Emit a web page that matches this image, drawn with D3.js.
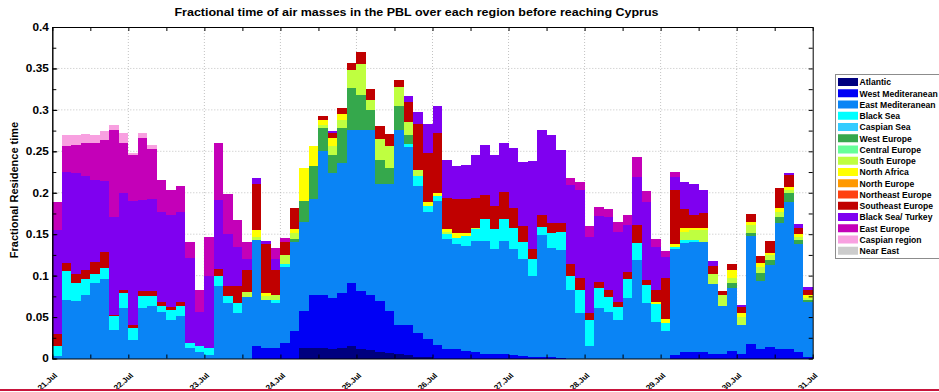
<!DOCTYPE html>
<html><head><meta charset="utf-8">
<script src="https://cdn.jsdelivr.net/npm/d3@7"></script>
<style>
body{margin:0;background:#fff}
svg{display:block}
text{font-family:"Liberation Sans",Arial,sans-serif;font-weight:bold;fill:#000}
</style>
</head><body><svg id="c" width="939" height="392"></svg>
<script>
// ---------------- data (one value per 3-hour bar, 21 Jul 00:00 .. 30 Jul 21:00) ----------------
const regions = ["Atlantic","West Mediteranean","East Mediteranean","Black Sea","Caspian Sea","West Europe",
  "Central Europe","South Europe","North Africa","North Europe","Northeast Europe","Southeast Europe",
  "Black Sea/ Turkey","East Europe","Caspian region","Near East"];
const regionColors = ["#00007f","#0000f5","#0a84f5","#00ffff","#33ccff","#35a84c","#66ff99","#bfff40",
  "#ffff00","#ff9900","#ff4010","#c00000","#7f00f0","#c400b8","#f8a0e0","#cccccc"];
const dayLabels = ["21.Jul","22.Jul","23.Jul","24.Jul","25.Jul","26.Jul","27.Jul","28.Jul","29.Jul","30.Jul","31.Jul"];
const yTickValues = [0,0.05,0.1,0.15,0.2,0.25,0.3,0.35,0.4];

const atlantic = [
 0,0,0,0,0,0,0,0,  0,0,0,0,0,0,0,0,  0,0,0,0,0,0,0,0,
 0,0,.013,.013,.013,.011,.013,.015,  .011,.010,.008,.007,.005,.004,.002,.002,
 0,0,0,0,0,0,0,0,  0,0,0,0,0,0,0,0,  0,0,0,0,0,0,0,0,  0,0,0,0,0,0,0,0,  0,0,0,0,0,0,0,0];
const westMed = [
 0,0,0,0,0,0,0,0,  0,0,0,0,0,0,0,0,  0,0,0,0,0,.015,.013,.013,
 .019,.033,.044,.064,.064,.062,.066,.076,  .070,.067,.061,.050,.036,.037,.029,.021,
 .016,.012,.012,.009,.008,.006,.005,.005,  .004,.003,.002,.002,.002,.001,0,0,
 0,0,0,0,0,0,0,0,  0,.004,.008,.008,.008,.005,.005,.009,  .005,.017,.011,.0135,.012,.012,.008,.002];
const eastMed = [
 .003,.071,.069,.077,.091,.096,.034,.061,  .0225,.061,.063,.0567,.0466,.0507,.0125,.008,
 .004,.087,.067,.055,.074,.1275,.058,.054,  .092,.107,.108,.116,.173,.151,.157,.185,
 .195,.199,.141,.153,.235,.214,.177,.154,  .174,.132,.126,.127,.134,.136,.127,.137,
 .128,.117,.098,.147,.131,.130,.083,.055,  .015,.0605,.0565,.0464,.0726,.1187,.0665,.0444,
 .0335,.1277,.131,.132,.133,.0845,.0583,.0757,  .0354,.1307,.0828,.0992,.151,.1772,.130,.0664];
const blackSea = [
 .012,.034,.022,.019,.011,.013,.017,.018,  .014,.015,.013,.007,.012,.013,.006,.0065,
 .009,.013,.008,.012,0,0,0,.004,  .003,0,0,0,0,0,0,0,  0,0,0,0,0,.004,.012,.007,
 .006,.006,.008,.012,.014,.026,.024,.026,  .026,.020,.020,.010,.019,.022,.017,.028,
 .0315,.024,.018,.016,.023,.021,.022,.0216,  .009,.0023,.004,.003,0,0,0,0,  0,0,0,0,0,0,0,0];
const caspianSea = new Array(80).fill(0);
const westEurope = [
 0,0,0,0,0,0,0,0,  0,0,0,0,0,0,0,0,  0,0,0,0,0,0,0,0,
 0,.004,.025,.039,.028,.021,.042,.050,  .042,.024,.030,.020,.029,.011,0,0,
 0,0,0,0,0,0,0,0,  0,0,0,0,0,0,0,0,  0,0,0,0,0,0,0,0,
 0,0,0,0,0,0,0,.006,  0,.0043,.0092,.006,.008,.010,.005,.0021];
const centralEurope = new Array(80).fill(0);
const southEurope = [
 0,0,0,0,0,0,0,0,  0,0,0,0,0,0,0,0,  0,0,0,0,.006,.004,.005,.006,
 .011,.007,0,0,.004,.011,.010,.022,  .037,.012,.025,.026,.023,.015,.008,0,
 0,.003,0,0,.002,0,0,0,  0,0,0,0,0,0,0,0,  0,0,0,0,0,0,0,0,
 0,0,.010,.012,.014,.012,.0133,.006,  .0101,.009,.007,.006,.006,.004,.004,.003];
const northAfrica = [
 0,0,0,0,0,0,0,0,  0,0,0,0,0,0,0,0,  0,0,0,0,0,.008,.003,0,
 0,.005,.040,.025,.006,.010,.007,0,  0,0,0,0,0,0,0,.005,
 .004,.003,.006,.004,0,0,0,0,  0,0,0,0,0,0,0,0,  0,0,0,0,0,0,0,.0025,
 .005,.004,.004,.002,.002,0,0,.0101,  .004,.004,.0056,.003,.004,.0041,.003,.0031];
const northEurope = new Array(80).fill(0);
const northeastEurope = new Array(80).fill(0);
const southeastEurope = [
 .015,.010,.011,.011,.015,.019,.002,.004,  .004,.005,.005,.005,.003,.005,0,0,
 0,.008,.013,.020,.027,.056,.059,.030,  .015,.025,0,0,.005,.006,.007,.009,
 .015,.013,.015,.015,.008,.025,.055,.059,  .072,.038,.040,.040,.036,.029,.028,.033,
 .024,.020,.012,.014,.012,.010,.014,.014,  .008,.008,.008,.006,.009,.0215,.006,.014,
 .0495,.065,.023,.016,.018,.010,.0052,.0067,  .008,.0093,.008,.014,.0243,.014,.007,.0059];
const blackSeaTurkey = [
 .125,.110,.122,.113,.098,.086,.118,.117,  .150,.110,.112,.108,.111,.108,.1025,.042,
 .087,.083,.062,.048,.013,.007,.004,.013,  0,0,0,0,0,.002,0,0,  0,0,0,0,0,.007,.014,.035,
 .033,.045,.040,.042,.052,.061,.062,.059,  .072,.077,.106,.103,.106,.089,.095,.106,
 .0925,.080,.088,.0845,.056,.058,.094,.052,  .026,.016,.033,.038,.028,.006,0,0,
 .0025,0,0,0,0,.0029,.0048,.0033];
const eastEurope = [
 .034,.031,.034,.040,.045,.050,.105,.060,  .055,.075,.060,.0385,.031,.031,.019,.026,
 .047,.069,.049,.032,.020,0,0,.013,  .006,0,0,0,0,0,0,0,  0,0,0,0,0,0,0,0,
 0,0,0,0,0,0,0,0,  0,0,0,0,0,0,.009,.010,  .013,.010,.010,.012,.012,.0237,.0134,.010,
 .007,.006,0,0,0,0,0,0,  0,0,0,0,0,0,0,0];
const caspianRegion = [
 0,.014,.012,.011,.010,.010,.006,.012,  .002,.006,.005,0,0,0,0,0,
 0,0,0,0,0,0,0,0,  0,0,0,0,0,0,0,0,  0,0,0,0,0,0,0,0,  0,0,0,0,0,0,0,0,
 0,0,0,0,0,0,0,0,  0,0,0,0,0,0,0,0,  0,0,0,0,0,0,0,0,  0,0,0,0,0,0,0,0];
const nearEast = new Array(80).fill(0);

const seriesValues = [atlantic,westMed,eastMed,blackSea,caspianSea,westEurope,centralEurope,southEurope,
  northAfrica,northEurope,northeastEurope,southeastEurope,blackSeaTurkey,eastEurope,caspianRegion,nearEast];

// ---------------- chart ----------------
const svg = d3.select("#c");
const t0 = new Date(Date.UTC(2013,6,21)), t1 = new Date(Date.UTC(2013,6,31));
const x = d3.scaleUtc().domain([t0,t1]).range([52.3,812.7]);
const y = d3.scaleLinear().domain([0,0.4]).range([358.5,27]);
const times = d3.range(80).map(i => d3.utcHour.offset(t0, 3*i));
const rows = times.map((t,i) => { const r = {t}; regions.forEach((k,j)=> r[k] = seriesValues[j][i]); return r; });
const stacked = d3.stack().keys(regions)(rows);
const color = d3.scaleOrdinal().domain(regions).range(regionColors);

// grid
const days = d3.utcDay.range(t0, d3.utcDay.offset(t1,1));
const grid = svg.append("g").attr("stroke","#b4b4b4").attr("stroke-dasharray","1,2").attr("stroke-width",0.8);
grid.selectAll("line.v").data(days.slice(1,-1)).join("line")
  .attr("x1",d=>x(d)).attr("x2",d=>x(d)).attr("y1",y(0.4)).attr("y2",y(0));
grid.selectAll("line.h").data(yTickValues.slice(1,-1)).join("line")
  .attr("x1",x(t0)).attr("x2",x(t1)).attr("y1",d=>y(d)).attr("y2",d=>y(d));

// bars
svg.append("g").attr("shape-rendering","crispEdges")
  .selectAll("g").data(stacked).join("g").attr("fill",d=>color(d.key))
  .selectAll("rect").data(d=>d.filter(s=>s[1]-s[0]>0)).join("rect")
  .attr("x",d=>Math.round(x(d.data.t)))
  .attr("width",d=>Math.round(x(d3.utcHour.offset(d.data.t,3)))-Math.round(x(d.data.t)))
  .attr("y",d=>Math.round(y(d[1])))
  .attr("height",d=>Math.round(y(d[0]))-Math.round(y(d[1])));

// axes
const fmtY = d => d===0 ? "0" : String(+d.toFixed(2));
const minorY = d3.range(0,0.4001,0.025);
const halfDays = d3.utcHour.range(t0, d3.utcHour.offset(t1,1), 12);
function styleAxis(g){ g.selectAll("path,line").attr("stroke","#000").attr("stroke-width",1); }

svg.append("g").attr("transform",`translate(${x(t0)},0)`)
  .call(d3.axisLeft(y).tickValues(minorY).tickSizeInner(-4).tickSizeOuter(0).tickFormat(""))
  .call(styleAxis);
const yAx = svg.append("g").attr("transform",`translate(${x(t0)},0)`)
  .call(d3.axisLeft(y).tickValues(yTickValues).tickSizeInner(-5).tickSizeOuter(0).tickPadding(3).tickFormat(fmtY))
  .call(styleAxis);
yAx.selectAll("text").attr("font-size",10).attr("transform","scale(1.18,1)").attr("dy","0.34em");
svg.append("g").attr("transform",`translate(${x(t1)},0)`)
  .call(d3.axisRight(y).tickValues(minorY).tickSizeInner(-4).tickSizeOuter(0).tickFormat(""))
  .call(styleAxis);

svg.append("g").attr("transform",`translate(0,${y(0.4)})`)
  .call(d3.axisTop(x).tickValues(halfDays).tickSizeInner(-4).tickSizeOuter(0).tickFormat(""))
  .call(styleAxis);
const xAx = svg.append("g").attr("transform",`translate(0,${y(0)})`)
  .call(d3.axisBottom(x).tickValues(halfDays).tickSizeInner(-4).tickSizeOuter(0)
    .tickFormat((d,i)=> d.getUTCHours()===0 ? dayLabels[d3.utcDay.count(t0,d)] : ""))
  .call(styleAxis);
xAx.selectAll("text").attr("font-size",7.3).attr("text-anchor","end")
  .attr("x",0).attr("y",0).attr("dy",0).attr("transform","translate(5,17.5) scale(1.15,1) rotate(-45)");

// title and axis label
svg.append("text").attr("x",416.5).attr("y",16).attr("text-anchor","middle")
  .attr("font-size",10.5).attr("transform","translate(416.5,0) scale(1.19,1) translate(-416.5,0)")
  .text("Fractional time of air masses in the PBL over each region before reaching Cyprus");
svg.append("text").attr("transform","translate(17.5,190) rotate(-90)").attr("text-anchor","middle")
  .attr("font-size",11).text("Fractional Residence time");

// legend
const lg = svg.append("g");
lg.append("rect").attr("x",835.5).attr("y",74.5).attr("width",130).attr("height",184)
  .attr("fill","#fff").attr("stroke","#8c8c8c").attr("stroke-width",1);
const li = lg.selectAll("g.it").data(regions).join("g").attr("transform",(d,i)=>`translate(838,${78+i*11.25})`);
li.append("rect").attr("width",20).attr("height",8).attr("fill",d=>color(d));
li.append("text").attr("x",21.5).attr("y",7.4).attr("font-size",8.6).text(d=>d);

// bottom rule
svg.append("rect").attr("x",0).attr("y",389).attr("width",939).attr("height",2).attr("fill","#c8143c");
</script>
</body></html>
